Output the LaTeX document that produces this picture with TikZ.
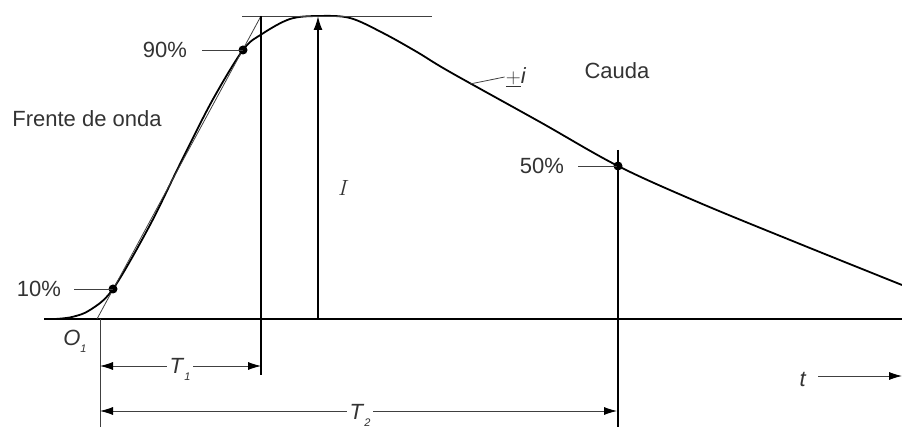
\documentclass[tikz,border=0pt]{standalone}
\usepackage{fontspec}
\setmainfont{Liberation Sans}
\newfontfamily\lmserif{Latin Modern Roman}
\usetikzlibrary{arrows.meta}
\tikzset{
  thinline/.style={line width=0.8pt, black!75},
  heavyline/.style={line width=1.8pt, black},
  dimarrow/.style={thinline, {Latex[length=13pt,width=8pt,black]}-{Latex[length=13pt,width=8pt,black]}},
  dot/.style={circle, fill=black, inner sep=0pt, minimum size=9pt},
  lbl/.style={font=\fontsize{22}{24}\selectfont, text=black!80, inner sep=1pt},
  gaplbl/.style={lbl, fill=white, inner sep=3pt},
}
\newcommand{\sublbl}[2]{\textit{#1}\raisebox{-7pt}{\fontsize{11}{11}\selectfont\textit{#2}}}
\begin{document}
\begin{tikzpicture}[x=1pt,y=-1pt]
\useasboundingbox (0,0) rectangle (902,427);
% axis and reference points
\coordinate (start) at (44,319);
\coordinate (end) at (902,319);
\coordinate (O) at (97,319);
\coordinate (front) at (261,16);
\coordinate (peak) at (318,16);
\coordinate (peakfoot) at (318,319);
\coordinate (topleft) at (242,16);
\coordinate (topright) at (432,16);
\draw[heavyline] (start)--(end);
% wave
\draw[heavyline] plot[smooth, tension=0.55] coordinates {(55,319) (72,317) (90,310) (113,289) (150,225) (180,164) (212,101) (243,50) (262,34) (290,19) (318,16) (350,18) (383,33) (417,52) (450,72) (540,122) (618,166) (700,203) (800,244) (902,285)};
\draw[thinline] (topleft)--(topright);
\draw[thinline] (O)--(front);
% points
\node[dot] (p10) at (113,289) {};
\node[dot] (p90) at (243,50) {};
\node[dot] (p50) at (618,166) {};
\node[lbl] (l10) at (39,289) {10\%};
\node[lbl] (l90) at (165,50) {90\%};
\node[lbl] (l50) at (542,166) {50\%};
\draw[thinline] (74,289)--(p10.center);
\draw[thinline] (202,50)--(p90.center);
\draw[thinline] (578,166)--(p50.center);
% verticals
\coordinate (t1top) at (261,16);
\coordinate (t1bot) at (261,375);
\coordinate (t2top) at (618,150);
\coordinate (t2bot) at (618,427);
\coordinate (o1bot) at (100,427);
\draw[heavyline] (t1top)--(t1bot);
\draw[heavyline] (t2top)--(t2bot);
\draw[thinline] (100,319)--(o1bot);
\draw[heavyline,-{Latex[length=14pt,width=9pt]}] (peakfoot)--(peak);
\node[lbl] (I) at (342,188) {\lmserif\itshape I};
% time intervals
\draw[dimarrow] (100,366)--(261,366);
\node[gaplbl] (T1) at (180,369) {\sublbl{T}{1}};
\draw[dimarrow] (100,411)--(617,411);
\node[gaplbl] (T2) at (360,415) {\sublbl{T}{2}};
\node[lbl] (O1) at (75,341) {\sublbl{O}{1}};
\node[lbl] (t) at (803,379) {\textit{t}};
\coordinate (tend) at (902,376);
\draw[thinline,-{Latex[length=13pt,width=8pt,black]}] (818,376)--(tend);
% texts
\node[lbl] (frente) at (87,119) {Frente de onda};
\node[lbl] (cauda) at (617,71) {Cauda};
\node[lbl] (pmi) at (516,77) {$\underline{+}$\textit{i}};
\draw[thinline] (470,84)--(pmi.west);
\end{tikzpicture}
\end{document}
